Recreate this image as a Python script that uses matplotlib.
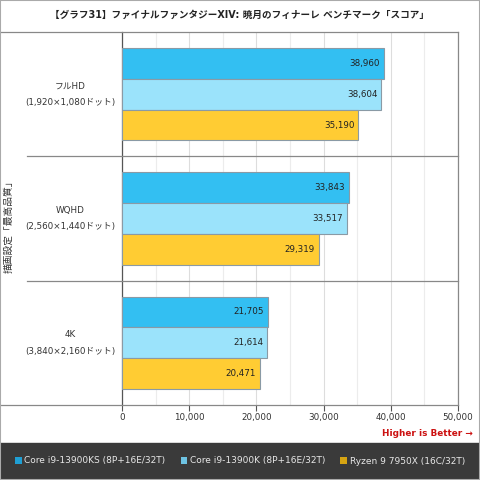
import numpy as np
import matplotlib.pyplot as plt
from matplotlib.patches import Rectangle, Patch

plt.rcParams['font.family'] = ['DejaVu Sans', 'Noto Sans CJK JP']

title = "【グラフ31】ファイナルファンタジーXIV: 暁月のフィナーレ ベンチマーク「スコア」"
groups = ["フルHD\n(1,920×1,080ドット)", "WQHD\n(2,560×1,440ドット)", "4K\n(3,840×2,160ドット)"]
cpus = ["Core i9-13900KS (8P+16E/32T)", "Core i9-13900K (8P+16E/32T)", "Ryzen 9 7950X (16C/32T)"]
scores = [
    [38960, 33843, 21705],
    [38604, 33517, 21614],
    [35190, 29319, 20471],
]
bar_colors = ["#33bff2", "#9be3fb", "#ffcc33"]
legend_colors = ["#1f9fd4", "#6ec3e3", "#d6a412"]

fig = plt.figure(figsize=(4.8, 4.8), dpi=100)
ax = fig.add_axes([122/480, 75/480, 336/480, 373/480])

h = 0.248
y0 = np.arange(len(groups)) + 0.5
for i, (vals, c) in enumerate(zip(scores, bar_colors)):
    ys = y0 + (i - 1) * h
    ax.barh(ys, vals, height=h, color=c, edgecolor="#8a9aa5", linewidth=0.8, zorder=3)
    for y, v in zip(ys, vals):
        ax.text(v - 600, y, f"{v:,}", ha="right", va="center", fontsize=6.3, color="#222222", zorder=4)

ax.set_xlim(0, 50000)
ax.set_ylim(len(groups), 0)
ax.set_xticks(np.arange(0, 50001, 10000))
ax.set_xticklabels([f"{v:,}" for v in range(0, 50001, 10000)], fontsize=6.3, color="#333333")
ax.set_xticks(np.arange(5000, 50000, 10000), minor=True)
ax.tick_params(axis="x", which="major", length=4, color="#555555", pad=1.5)
ax.tick_params(axis="x", which="minor", length=0)
ax.set_yticks([])
ax.grid(axis="x", which="major", color="#dddddd", linewidth=0.8, zorder=0)
ax.grid(axis="x", which="minor", color="#ececec", linewidth=0.8, zorder=0)
for s in ["top", "right", "bottom"]:
    ax.spines[s].set_visible(False)
ax.spines["left"].set_color("#555555")
ax.spines["left"].set_linewidth(0.9)
ax.plot([1, 1], [0, 3], transform=ax.get_yaxis_transform(), color="#888888", lw=0.9, clip_on=False, zorder=5)

# group separators extending into label area
for gy, x_start in [(0, -122/336), (1, -95/336), (2, -95/336), (3, -122/336)]:
    ax.plot([x_start, 1], [gy, gy], transform=ax.get_yaxis_transform(), color="#888888",
            lw=0.9, clip_on=False, zorder=5)

for y, g in zip(y0, groups):
    ax.text(-52/336, y, g, transform=ax.get_yaxis_transform(), ha="center", va="center",
            fontsize=6.3, color="#333333", linespacing=2.1)

fig.text(9/480, 1 - 224/480, "描画設定「最高品質」", rotation=90, ha="center", va="center",
         fontsize=7.0, color="#333333")
fig.text(0.5, 1 - 15/480, title, ha="center", va="center", fontsize=6.9, fontweight="bold", color="#222222")
fig.text(473/480, 1 - 434/480, "Higher is Better →", ha="right", va="center", fontsize=6.4,
         fontweight="bold", color="#cc1111")

# dark legend band and figure border
fig.patches.append(Rectangle((0, 0), 1, 37/480, transform=fig.transFigure, color="#3a3a3a", zorder=0))
fig.patches.append(Rectangle((0, 0), 1, 1, transform=fig.transFigure, fill=False, edgecolor="#aaaaaa", lw=1.5))

handles = [Patch(facecolor=c, edgecolor="none") for c in legend_colors]
leg = fig.legend(handles, cpus, loc="center", bbox_to_anchor=(0.5, 19/480), ncol=3, frameon=False,
                 fontsize=6.5, labelcolor="#e8e8e8", handlelength=0.7, handleheight=0.7,
                 handletextpad=0.3, columnspacing=1.7)

fig.savefig("out.png", dpi=100)
